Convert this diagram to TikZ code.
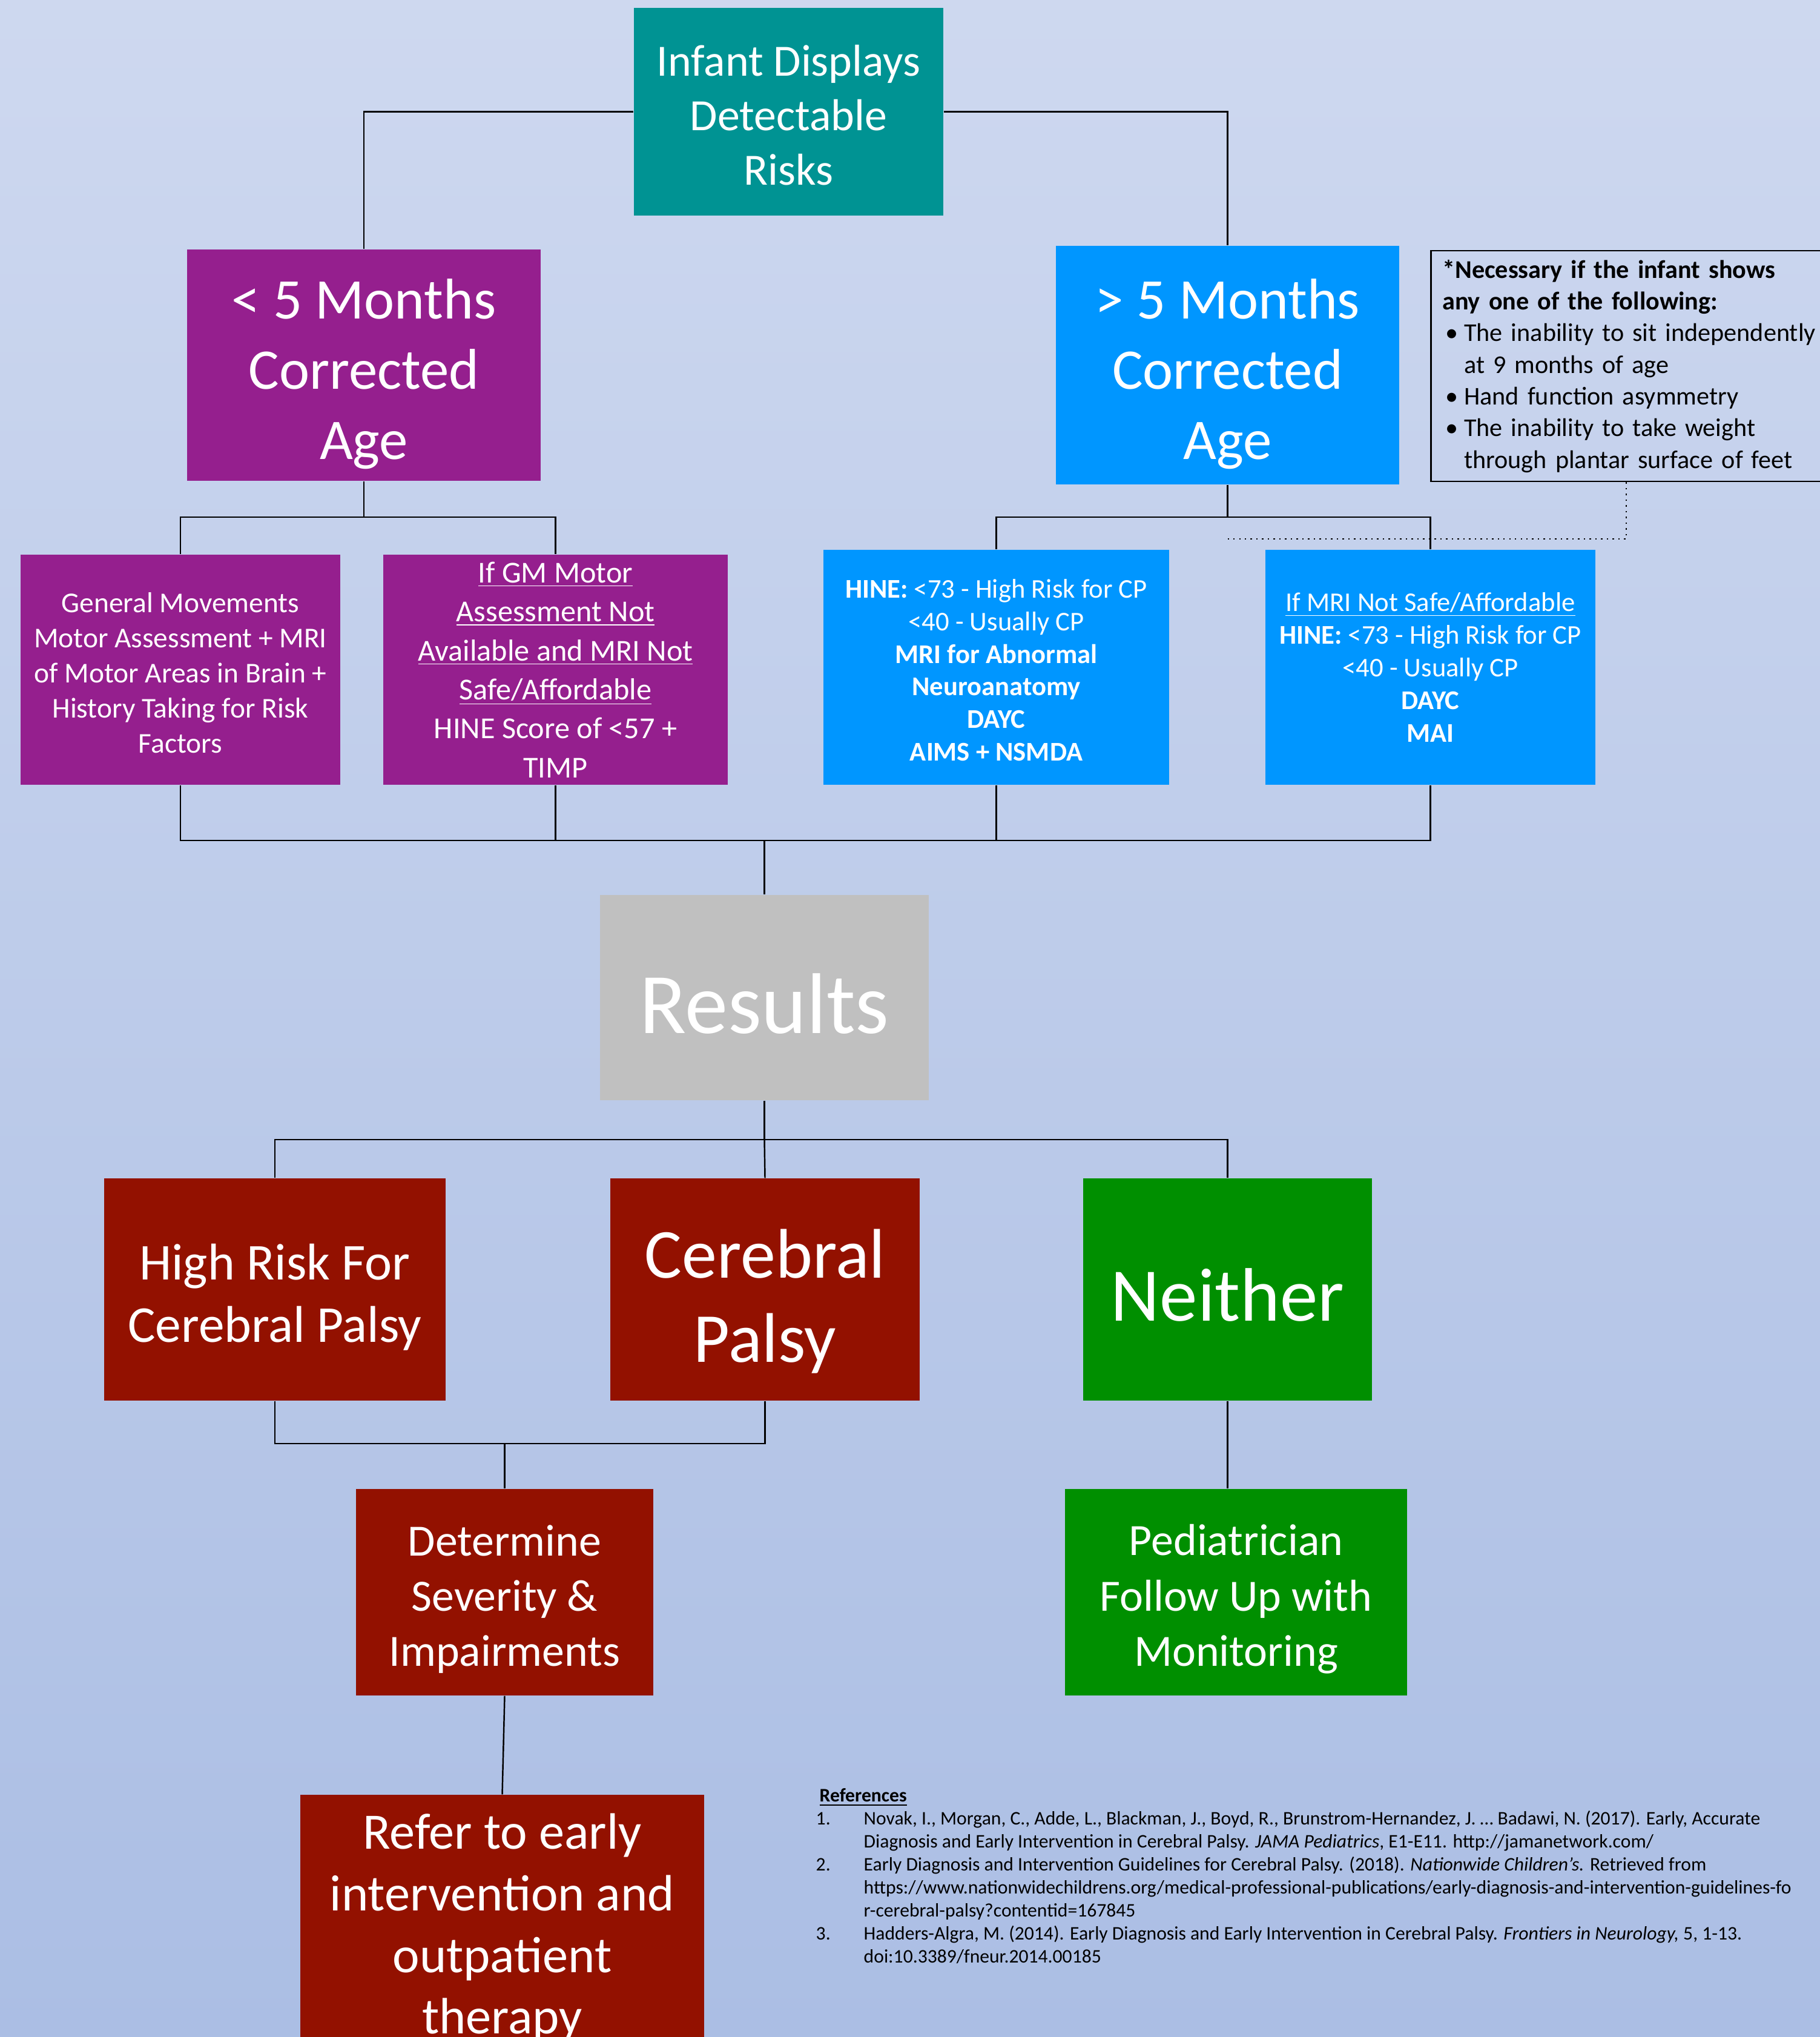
\documentclass[tikz,border=0pt]{standalone}
\usepackage{fontspec}
\setmainfont{Carlito}
\usetikzlibrary{shadings}

\definecolor{tealbox}{RGB}{0,147,147}
\definecolor{plumbox}{RGB}{149,31,142}
\definecolor{skybox}{RGB}{0,150,255}
\definecolor{greybox}{RGB}{192,192,192}
\definecolor{rustbox}{RGB}{147,17,0}
\definecolor{leafbox}{RGB}{0,143,0}
\definecolor{bgtop}{RGB}{223,229,245}
\definecolor{bgmid}{RGB}{171,190,228}
\definecolor{bgbottom}{RGB}{188,204,236}
\pgfdeclareverticalshading{bgfade}{100bp}{color(0bp)=(bgbottom); color(25bp)=(bgmid); color(100bp)=(bgtop)}
% lifts the first line of a box a little higher
\newcommand{\padtop}[1]{\rule{0pt}{#1em}}

\begin{document}
\begin{tikzpicture}
			\tikzstyle{block} = [rectangle, text=white, align=center, inner sep=0pt]
			\tikzstyle{link} = [draw, black, line width=0.7pt]
			\useasboundingbox (0,0) rectangle (30.06,-33.64);
			\clip (0,0) rectangle (30.06,-33.64);
			\shade[shading=bgfade] (0,0) rectangle (30.06,-33.64);

			% top row
			\node[block, fill=tealbox, minimum width=5.11cm, minimum height=3.43cm, font=\fontsize{21pt}{25.6pt}\selectfont] (infant) at (13.025,-1.845) {\padtop{0.85}Infant Displays\\Detectable\\Risks};
			\node[block, fill=plumbox, minimum width=5.84cm, minimum height=3.82cm, font=\fontsize{27pt}{33pt}\selectfont] (young) at (6.01,-6.03) {\padtop{1}< 5 Months\\Corrected\\Age};
			\node[block, fill=skybox, minimum width=5.67cm, minimum height=3.94cm, font=\fontsize{27pt}{33pt}\selectfont] (old) at (20.275,-6.03) {\padtop{1}> 5 Months\\Corrected\\Age};
			\node[draw, line width=0.7pt, anchor=north west, minimum height=3.81cm, text width=7cm, inner xsep=0.19cm, inner ysep=0pt, align=left, font=\fontsize{12pt}{14.9pt}\selectfont] (note) at (23.62,-4.13) {\textbf{*Necessary if the infant shows}\\
				\textbf{any one of the following:}\\
				\hspace*{0.05cm}\makebox[0.31cm][l]{\textbullet}The inability to sit independently\\
				\hspace*{0.36cm}at 9 months of age\\
				\hspace*{0.05cm}\makebox[0.31cm][l]{\textbullet}Hand function asymmetry\\
				\hspace*{0.05cm}\makebox[0.31cm][l]{\textbullet}The inability to take weight\\
				\hspace*{0.36cm}through plantar surface of feet};

			% assessments
			\node[block, fill=plumbox, minimum width=5.28cm, minimum height=3.80cm, font=\fontsize{13.5pt}{16.5pt}\selectfont] (gma) at (2.98,-11.06) {\padtop{0.9}General Movements\\Motor Assessment + MRI\\of Motor Areas in Brain +\\History Taking for Risk\\Factors};
			\node[block, fill=plumbox, minimum width=5.69cm, minimum height=3.80cm, font=\fontsize{14.3pt}{18.3pt}\selectfont] (ifgm) at (9.175,-11.06) {\underline{If GM Motor}\\\underline{Assessment Not}\\\underline{Available and MRI Not}\\\underline{Safe/Affordable}\\HINE Score of <57 +\\TIMP};
			\node[block, fill=skybox, minimum width=5.71cm, minimum height=3.88cm, font=\fontsize{12.7pt}{15.3pt}\selectfont] (hine) at (16.455,-11.02) {\padtop{0.9}\textbf{HINE:} <73 - High Risk for CP\\<40 - Usually CP\\\textbf{MRI for Abnormal}\\\textbf{Neuroanatomy}\\\textbf{DAYC}\\\textbf{AIMS + NSMDA}};
			\node[block, fill=skybox, minimum width=5.45cm, minimum height=3.88cm, font=\fontsize{12.7pt}{15.3pt}\selectfont] (ifmri) at (23.625,-11.02) {\underline{If MRI Not Safe/Affordable}\\\textbf{HINE:} <73 - High Risk for CP\\<40 - Usually CP\\\textbf{DAYC}\\\textbf{MAI}};

			\node[block, fill=greybox, minimum width=5.43cm, minimum height=3.39cm, font=\fontsize{40.5pt}{48pt}\selectfont] (results) at (12.625,-16.475) {\padtop{0.84}Results};

			% outcomes
			\node[block, fill=rustbox, minimum width=5.64cm, minimum height=3.67cm, font=\fontsize{24.3pt}{29.3pt}\selectfont] (highrisk) at (4.54,-21.295) {\padtop{1}High Risk For\\Cerebral Palsy};
			\node[block, fill=rustbox, minimum width=5.11cm, minimum height=3.67cm, font=\fontsize{33pt}{39.6pt}\selectfont] (cp) at (12.635,-21.295) {\padtop{1.03}Cerebral\\Palsy};
			\node[block, fill=leafbox, minimum width=4.77cm, minimum height=3.67cm, font=\fontsize{35.6pt}{42pt}\selectfont] (neither) at (20.275,-21.295) {\padtop{0.84}Neither};
			\node[block, fill=rustbox, minimum width=4.91cm, minimum height=3.41cm, font=\fontsize{21pt}{26pt}\selectfont] (severity) at (8.335,-26.295) {\padtop{1}Determine\\Severity \&\\Impairments};
			\node[block, fill=leafbox, minimum width=5.65cm, minimum height=3.41cm, font=\fontsize{21pt}{26pt}\selectfont] (followup) at (20.415,-26.295) {\padtop{1}Pediatrician\\Follow Up with\\Monitoring};
			\node[block, fill=rustbox, minimum width=6.67cm, minimum height=4.26cm, font=\fontsize{24pt}{29pt}\selectfont] (refer) at (8.295,-31.77) {\padtop{0.85}Refer to early\\intervention and\\outpatient\\therapy};

			\node[anchor=north west, inner sep=0pt, align=left, font=\fontsize{9pt}{10.8pt}\selectfont] (refs) at (13.47,-29.53) {\hspace*{0.06cm}\underline{\textbf{References}}\\
				\makebox[0.79cm][l]{1.}Novak, I., Morgan, C., Adde, L., Blackman, J., Boyd, R., Brunstrom-Hernandez, J. … Badawi, N. (2017). Early, Accurate\\
				\hspace*{0.79cm}Diagnosis and Early Intervention in Cerebral Palsy. \textit{JAMA Pediatrics}, E1-E11. http://jamanetwork.com/\\
				\makebox[0.79cm][l]{2.}Early Diagnosis and Intervention Guidelines for Cerebral Palsy. (2018). \textit{Nationwide Children’s.} Retrieved from\\
				\hspace*{0.79cm}https://www.nationwidechildrens.org/medical-professional-publications/early-diagnosis-and-intervention-guidelines-fo\\
				\hspace*{0.79cm}r-cerebral-palsy?contentid=167845\\
				\makebox[0.79cm][l]{3.}Hadders-Algra, M. (2014). Early Diagnosis and Early Intervention in Cerebral Palsy. \textit{Frontiers in Neurology,} 5, 1-13.\\
				\hspace*{0.79cm}doi:10.3389/fneur.2014.00185};

			% junctions
			\coordinate (split1) at (6.01,-8.54);
			\coordinate (split2) at (20.275,-8.54);
			\coordinate (merge1) at (12.625,-13.88);
			\coordinate (split3) at (12.625,-18.82);
			\coordinate (merge2) at (8.335,-23.84);
			\coordinate (notefoot) at (26.86,-7.94);

			\path[link] (infant.west) -| (young.north);
			\path[link] (infant.east) -| (old.north);
			\path[link] (young.south) -- (split1);
			\path[link] (gma.north) |- (split1) -| (ifgm.north);
			\path[link] (old.south) -- (split2);
			\path[link] (hine.north) |- (split2) -| (ifmri.north);
			\draw[dotted, line width=0.7pt] (old.south |- 0,-8.90) -| (notefoot);
			\path[link] (gma.south) |- (merge1) -| (ifmri.south);
			\path[link] (ifgm.south) -- (ifgm.south |- merge1);
			\path[link] (hine.south) -- (hine.south |- merge1);
			\path[link] (merge1) -- (results.north);
			\path[link] (results.south) -- (split3);
			\path[link] (highrisk.north) |- (split3) -| (neither.north);
			\path[link] (split3) -- (cp.north);
			\path[link] (highrisk.south) |- (merge2) -| (cp.south);
			\path[link] (merge2) -- (severity.north);
			\path[link] (neither.south) -- (neither.south |- followup.north);
			\path[link] (severity.south) -- (refer.north);
\end{tikzpicture}
\end{document}
